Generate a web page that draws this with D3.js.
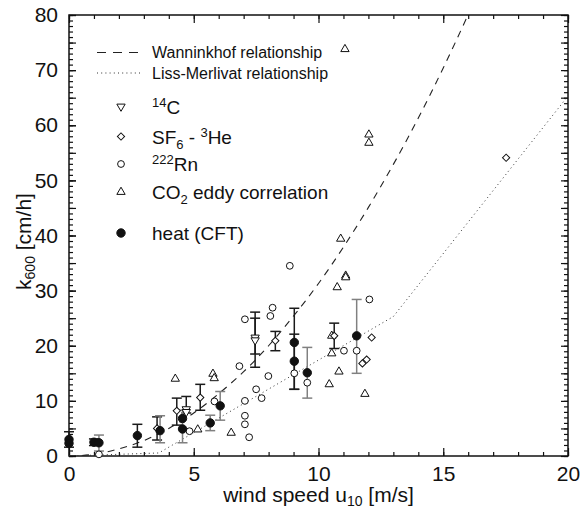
<!DOCTYPE html>
<html>
<head>
<meta charset="utf-8">
<script src="https://cdnjs.cloudflare.com/ajax/libs/d3/7.8.5/d3.min.js"></script>
<style>
  body { margin: 0; background: #fff; }
  text { font-family: "Liberation Sans", Arial, sans-serif; fill: #111; }
</style>
</head>
<body>
<svg id="chart"></svg>
<script>
// relationships
const wannU = [0, 1, 2, 3, 4, 5, 6, 7, 8, 9, 10, 11, 12, 13, 14, 15, 16, 16.2];
const wannK = [0, 0.3, 1.3, 2.8, 5.0, 7.8, 11.3, 15.3, 20.0, 25.4, 31.3, 37.9, 45.1, 52.9, 61.3, 70.4, 80.1, 82.1];
const lmU = [0, 3.6, 13, 20];
const lmK = [0, 0.55, 25.3, 65.3];

// measurements
const c14U = [7.46, 7.46, 4.7, 4.7];
const c14K = [21.5, 21.0, 8.5, 8.0];
const sf6U = [3.53, 4.32, 5.26, 8.27, 10.63, 12.13, 11.76, 11.93, 17.52];
const sf6K = [5.0, 8.2, 10.6, 20.9, 21.8, 21.5, 16.8, 17.5, 54.1];
const rnU = [1.2, 4.83, 5.83, 6.83, 7.05, 7.05, 7.05, 7.05, 7.22, 7.5, 7.72, 7.99, 8.07, 8.16, 8.85, 9.03, 9.55, 11.02, 11.53, 12.04];
const rnK = [0.3, 4.5, 9.9, 16.3, 24.8, 10.0, 7.3, 5.75, 3.4, 12.1, 10.5, 14.5, 25.4, 26.9, 34.5, 15.0, 13.3, 19.1, 19.1, 28.4];
const co2U = [4.26, 5.16, 5.77, 5.82, 6.5, 10.43, 10.53, 10.53, 10.75, 10.82, 10.89, 11.09, 11.09, 11.06, 11.86, 12.02, 12.02];
const co2K = [14.0, 4.8, 14.9, 14.1, 4.2, 13.0, 21.8, 18.6, 30.6, 15.3, 39.4, 32.7, 32.4, 73.8, 11.25, 58.3, 56.8];
const heatU = [0, 0, 1.0, 1.2, 2.74, 3.65, 4.55, 4.55, 5.66, 6.06, 9.03, 9.03, 9.55, 11.53];
const heatK = [3.0, 2.3, 2.5, 2.4, 3.7, 4.6, 6.8, 4.9, 6.0, 9.1, 20.6, 17.2, 15.1, 21.8];

// error bars: position, low, high, which set
const errU  = [0, 1.0, 1.2, 2.74, 3.53, 3.65, 4.32, 4.7, 4.55, 5.26, 5.66, 6.06, 7.46, 7.46, 8.27, 9.03, 9.03, 9.55, 10.63, 11.53];
const errLo = [1.6, 1.9, 0.9, 1.6, 2.9, 2.4, 5.6, 7.8, 2.4, 8.3, 4.6, 6.5, 16.1, 18.5, 19.1, 12.1, 12.1, 10.5, 19.5, 15.0];
const errHi = [4.4, 3.1, 3.8, 5.75, 7.1, 7.3, 10.5, 10.8, 8.3, 13.0, 7.4, 11.7, 26.1, 25.0, 22.6, 26.8, 22.1, 19.7, 24.1, 28.4];
const errSet = ["a", "a", "b", "a", "a", "b", "a", "a", "b", "a", "b", "b", "a", "a", "a", "a", "a", "b", "a", "b"];

const xTicks = [0, 5, 10, 15, 20];
const yTicks = [0, 10, 20, 30, 40, 50, 60, 70, 80];

const W = 581, H = 511;
const m = {left: 69, top: 15, right: 13, bottom: 55};
const iw = W - m.left - m.right, ih = H - m.top - m.bottom;

const svg = d3.select("#chart").attr("width", W).attr("height", H);
const g = svg.append("g").attr("transform", `translate(${m.left},${m.top})`);

const x = d3.scaleLinear().domain([0, 20]).range([0, iw]);
const y = d3.scaleLinear().domain([0, 80]).range([ih, 0]);

g.append("clipPath").attr("id", "clip")
  .append("rect").attr("width", iw).attr("height", ih);

// axes, ticks inward
function styleAxis(sel) {
  sel.select(".domain").remove();
  sel.selectAll("line").attr("stroke", "#111").attr("stroke-width", 1.2);
  sel.selectAll("text").attr("font-size", 21).style("font-family", "'Liberation Sans', Arial, sans-serif");
}
const minorX = d3.range(0, 21);
const minorY = d3.range(0, 81);
g.append("g").attr("transform", `translate(0,${ih})`)
  .call(d3.axisBottom(x).tickValues(minorX).tickSize(-4).tickFormat(""))
  .call(styleAxis);
g.append("g").attr("transform", `translate(0,${ih})`)
  .call(d3.axisBottom(x).tickValues(xTicks).tickSizeInner(-8).tickSizeOuter(0).tickPadding(10).tickFormat(d3.format("d")))
  .call(styleAxis);
g.append("g")
  .call(d3.axisTop(x).tickValues(minorX).tickSize(-4).tickFormat(""))
  .call(styleAxis);
g.append("g")
  .call(d3.axisTop(x).tickValues(xTicks).tickSize(-8).tickFormat(""))
  .call(styleAxis);
g.append("g")
  .call(d3.axisLeft(y).tickValues(minorY).tickSize(-4).tickFormat(""))
  .call(styleAxis);
g.append("g")
  .call(d3.axisLeft(y).tickValues(d3.range(0, 81, 5)).tickSize(-7).tickFormat(""))
  .call(styleAxis);
g.append("g")
  .call(d3.axisLeft(y).tickValues(yTicks).tickSizeInner(-7).tickSizeOuter(0).tickPadding(11).tickFormat(d3.format("d")))
  .call(styleAxis);
g.append("g").attr("transform", `translate(${iw},0)`)
  .call(d3.axisRight(y).tickValues(minorY).tickSize(-4).tickFormat(""))
  .call(styleAxis);
g.append("g").attr("transform", `translate(${iw},0)`)
  .call(d3.axisRight(y).tickValues(d3.range(0, 81, 5)).tickSize(-7).tickFormat(""))
  .call(styleAxis);

g.append("rect").attr("width", iw).attr("height", ih)
  .attr("fill", "none").attr("stroke", "#111").attr("stroke-width", 1.5);

// relationship lines
const line = d3.line().x(d => x(d[0])).y(d => y(d[1]));
g.append("path")
  .datum(d3.zip(wannU, wannK))
  .attr("clip-path", "url(#clip)")
  .attr("d", line.curve(d3.curveMonotoneX))
  .attr("fill", "none").attr("stroke", "#222").attr("stroke-width", 1.1)
  .attr("stroke-dasharray", "7,6");
g.append("path")
  .datum(d3.zip(lmU, lmK))
  .attr("clip-path", "url(#clip)")
  .attr("d", d3.line().x(d => x(d[0])).y(d => y(d[1])))
  .attr("fill", "none").attr("stroke", "#333").attr("stroke-width", 1)
  .attr("stroke-dasharray", "1,3.2");

// error bars
const errColor = {a: "#1a1a1a", b: "#808080"};
const eb = g.append("g").selectAll("g")
  .data(d3.range(errU.length))
  .enter().append("g")
  .attr("stroke", i => errColor[errSet[i]])
  .attr("stroke-width", 1.5);
eb.append("line")
  .attr("x1", i => x(errU[i])).attr("x2", i => x(errU[i]))
  .attr("y1", i => y(errLo[i])).attr("y2", i => y(errHi[i]));
eb.append("line")
  .attr("x1", i => x(errU[i]) - 5).attr("x2", i => x(errU[i]) + 5)
  .attr("y1", i => y(errLo[i])).attr("y2", i => y(errLo[i]));
eb.append("line")
  .attr("x1", i => x(errU[i]) - 5).attr("x2", i => x(errU[i]) + 5)
  .attr("y1", i => y(errHi[i])).attr("y2", i => y(errHi[i]));

// markers
const triUp = d3.symbol().type(d3.symbolTriangle).size(30)();
const square = d3.symbol().type(d3.symbolSquare).size(26)();
function drawSet(us, ks, kind) {
  const pts = d3.zip(us, ks);
  const sel = g.append("g").selectAll(".pt").data(pts).enter();
  addMarker(sel, kind, d => x(d[0]), d => y(d[1]));
}
function addMarker(sel, kind, fx, fy) {
  if (kind === "circle" || kind === "dot") {
    sel.append("circle")
      .attr("cx", fx).attr("cy", fy)
      .attr("r", kind === "dot" ? 4.2 : 3.4)
      .attr("fill", kind === "dot" ? "#111" : "#fff")
      .attr("stroke", "#111").attr("stroke-width", 1);
  } else {
    const path = kind === "diamond" ? square : triUp;
    const rot = kind === "diamond" ? 45 : (kind === "down" ? 180 : 0);
    sel.append("path")
      .attr("d", path)
      .attr("transform", (d, i) => `translate(${fx(d, i)},${fy(d, i)}) rotate(${rot})`)
      .attr("fill", "#fff").attr("stroke", "#111").attr("stroke-width", 1);
  }
}
drawSet(rnU, rnK, "circle");
drawSet(co2U, co2K, "up");
drawSet(sf6U, sf6K, "diamond");
drawSet(c14U, c14K, "down");
drawSet(heatU, heatK, "dot");

// legend
const lg = svg.append("g");
const lx0 = 97, lx1 = 142, sx = 121, tx = 152;
lg.append("line").attr("x1", lx0).attr("x2", lx1).attr("y1", 52.5).attr("y2", 52.5)
  .attr("stroke", "#222").attr("stroke-width", 1.1).attr("stroke-dasharray", "9,7");
lg.append("line").attr("x1", lx0).attr("x2", lx1).attr("y1", 73).attr("y2", 73)
  .attr("stroke", "#333").attr("stroke-width", 1).attr("stroke-dasharray", "1,3.2");
lg.append("text").attr("x", tx).attr("y", 58).attr("font-size", 16).text("Wanninkhof relationship");
lg.append("text").attr("x", tx).attr("y", 79).attr("font-size", 16).text("Liss-Merlivat relationship");

const rows = [
  {kind: "down", y: 106.5},
  {kind: "diamond", y: 136.5},
  {kind: "circle", y: 164},
  {kind: "up", y: 192},
  {kind: "dot", y: 233}
];
rows.forEach(r => addMarker(lg.append("g").selectAll(".l").data([r]).enter(), r.kind, () => sx, d => d.y));

function richText(yb, parts) {
  const t = lg.append("text").attr("x", tx).attr("y", yb).attr("font-size", 19);
  let shift = 0;
  parts.forEach(p => {
    const target = p[1] === "sup" ? -7 : p[1] === "sub" ? 5 : 0;
    t.append("tspan").attr("dy", target - shift)
      .attr("font-size", p[1] ? 13 : 19).text(p[0]);
    shift = target;
  });
}
richText(113.5, [["14", "sup"], ["C"]]);
richText(143.5, [["SF"], ["6", "sub"], [" - "], ["3", "sup"], ["He"]]);
richText(171, [["222", "sup"], ["Rn"]]);
richText(199, [["CO"], ["2", "sub"], [" eddy correlation"]]);
richText(240, [["heat (CFT)"]]);

// axis titles
const xt = svg.append("text").attr("x", m.left + iw / 2).attr("y", 502)
  .attr("text-anchor", "middle").attr("font-size", 21);
xt.append("tspan").text("wind speed u");
xt.append("tspan").attr("dy", 4).attr("font-size", 14).text("10");
xt.append("tspan").attr("dy", -4).text(" [m/s]");

const yt = svg.append("text")
  .attr("transform", `translate(31,${m.top + ih / 2 + 6}) rotate(-90)`)
  .attr("text-anchor", "middle").attr("font-size", 21);
yt.append("tspan").text("k");
yt.append("tspan").attr("dy", 4).attr("font-size", 14).text("600");
yt.append("tspan").attr("dy", -4).text(" [cm/h]");
</script>
</body>
</html>
